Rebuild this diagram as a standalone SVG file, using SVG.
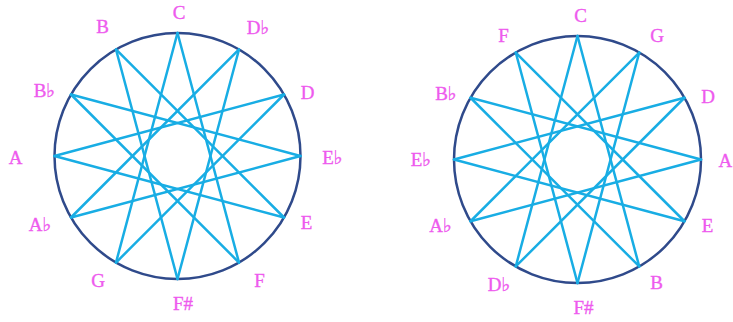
<svg xmlns="http://www.w3.org/2000/svg" width="733" height="322" viewBox="0 0 733 322">
<style>
.ring{fill:none;stroke:#2f4a8b;stroke-width:2.5}
.edge{stroke:#18ade4;stroke-width:2.5;stroke-linecap:round}
.lbl{font-family:"Liberation Serif","DejaVu Serif",serif;font-size:19px;fill:#ee5aee;stroke:#ee5aee;stroke-width:0.35;text-anchor:middle}
</style>
<rect width="733" height="322" fill="#ffffff"/>
<g id="circle-left"><circle class="ring" cx="177.5" cy="156" r="123"/></g>
<g id="circle-right"><circle class="ring" cx="577.5" cy="159.5" r="123.5"/></g>
<g id="connectors">
<g id="star-left">
<line class="edge" x1="177.5" y1="33" x2="239" y2="262.52"/>
<line class="edge" x1="239" y1="262.52" x2="70.98" y2="94.5"/>
<line class="edge" x1="70.98" y1="94.5" x2="300.5" y2="156"/>
<line class="edge" x1="300.5" y1="156" x2="70.98" y2="217.5"/>
<line class="edge" x1="70.98" y1="217.5" x2="239" y2="49.48"/>
<line class="edge" x1="239" y1="49.48" x2="177.5" y2="279"/>
<line class="edge" x1="177.5" y1="279" x2="116" y2="49.48"/>
<line class="edge" x1="116" y1="49.48" x2="284.02" y2="217.5"/>
<line class="edge" x1="284.02" y1="217.5" x2="54.5" y2="156"/>
<line class="edge" x1="54.5" y1="156" x2="284.02" y2="94.5"/>
<line class="edge" x1="284.02" y1="94.5" x2="116" y2="262.52"/>
<line class="edge" x1="116" y1="262.52" x2="177.5" y2="33"/>
</g>
<g id="star-right">
<line class="edge" x1="577.5" y1="36" x2="639.25" y2="266.45"/>
<line class="edge" x1="639.25" y1="266.45" x2="470.55" y2="97.75"/>
<line class="edge" x1="470.55" y1="97.75" x2="701" y2="159.5"/>
<line class="edge" x1="701" y1="159.5" x2="470.55" y2="221.25"/>
<line class="edge" x1="470.55" y1="221.25" x2="639.25" y2="52.55"/>
<line class="edge" x1="639.25" y1="52.55" x2="577.5" y2="283"/>
<line class="edge" x1="577.5" y1="283" x2="515.75" y2="52.55"/>
<line class="edge" x1="515.75" y1="52.55" x2="684.45" y2="221.25"/>
<line class="edge" x1="684.45" y1="221.25" x2="454" y2="159.5"/>
<line class="edge" x1="454" y1="159.5" x2="684.45" y2="97.75"/>
<line class="edge" x1="684.45" y1="97.75" x2="515.75" y2="266.45"/>
<line class="edge" x1="515.75" y1="266.45" x2="577.5" y2="36"/>
</g>
</g>
<g id="labels-left">
<g id="L-C"><text class="lbl" x="179" y="18.5">C</text></g>
<g id="L-Db"><text class="lbl" x="258" y="34">D♭</text></g>
<g id="L-D"><text class="lbl" x="307.5" y="98.5">D</text></g>
<g id="L-Eb"><text class="lbl" x="332.5" y="163.5">E♭</text></g>
<g id="L-E"><text class="lbl" x="306.5" y="228.5">E</text></g>
<g id="L-F"><text class="lbl" x="259.5" y="287">F</text></g>
<g id="L-Fs"><text class="lbl" x="183" y="310">F#</text></g>
<g id="L-G"><text class="lbl" x="98" y="287">G</text></g>
<g id="L-Ab"><text class="lbl" x="40" y="231">A♭</text></g>
<g id="L-A"><text class="lbl" x="15.5" y="163.5">A</text></g>
<g id="L-Bb"><text class="lbl" x="44.5" y="96.5">B♭</text></g>
<g id="L-B"><text class="lbl" x="102.5" y="33">B</text></g>
</g>
<g id="labels-right">
<g id="R-C"><text class="lbl" x="580.5" y="22">C</text></g>
<g id="R-G"><text class="lbl" x="657" y="41.5">G</text></g>
<g id="R-D"><text class="lbl" x="708" y="103">D</text></g>
<g id="R-A"><text class="lbl" x="718.5" y="166.5" style="text-anchor:start">A</text></g>
<g id="R-E"><text class="lbl" x="707.5" y="232">E</text></g>
<g id="R-B"><text class="lbl" x="656.5" y="289">B</text></g>
<g id="R-Fs"><text class="lbl" x="583.5" y="314">F#</text></g>
<g id="R-Db"><text class="lbl" x="499" y="291">D♭</text></g>
<g id="R-Ab"><text class="lbl" x="440.5" y="232">A♭</text></g>
<g id="R-Eb"><text class="lbl" x="421" y="166">E♭</text></g>
<g id="R-Bb"><text class="lbl" x="446" y="100">B♭</text></g>
<g id="R-F"><text class="lbl" x="503.5" y="41.5">F</text></g>
</g>
</svg>
